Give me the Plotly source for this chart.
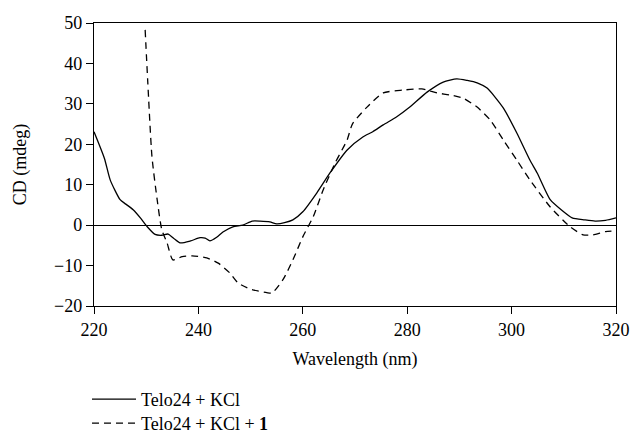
import plotly.graph_objects as go

# Telo24 + KCl (solid)
wl_kcl = [220, 222, 223.1, 225, 226.1, 227.5, 229, 230.2, 231.7, 233, 234.2, 235.3, 236.5,
          238.5, 240.3, 241.3, 242.2, 243.5, 244.7, 246.6, 248.5, 250.3, 251.8, 253.7, 255,
          256.5, 258.1, 260, 262.7, 265.2, 268.5, 271.5, 273.4, 275.4, 278, 280.5, 283.8,
          286.9, 289.5, 291.5, 293.4, 295.3, 298.4, 301, 303.5, 304.9, 307.4, 309.5, 311.6,
          314, 316, 318, 320]
cd_kcl = [23.1, 16.5, 11.2, 6.3, 5.2, 3.8, 1.6, -0.4, -2.3, -2.5, -2.2, -3.3, -4.4,
          -3.9, -3.1, -3.2, -3.9, -3.0, -1.7, -0.4, 0.0, 1.0, 1.0, 0.8, 0.3,
          0.6, 1.3, 3.3, 8.0, 12.9, 18.6, 21.8, 23.1, 24.8, 26.8, 29.2, 32.9,
          35.4, 36.2, 35.8, 35.2, 33.9, 29.0, 22.8, 16.1, 12.9, 6.3, 3.8, 1.8,
          1.3, 1.0, 1.2, 1.8]

# Telo24 + KCl + 1 (dashed)
wl_lig = [229.8, 230.3, 231.1, 232.1, 233, 234, 235.1, 236.9, 238.8, 241.6, 243.8, 246,
          247.6, 249.9, 251.5, 253.1, 254.1, 256.2, 258.1, 260, 262, 263.9, 266.2, 268.5,
          269.5, 272.3, 275.4, 279.2, 282.8, 285.7, 288.2, 290.7, 293.4, 295.9, 298.4,
          301, 303.5, 307.4, 311.2, 313.7, 315.6, 318, 320]
cd_lig = [48.3, 35.4, 17.0, 6.3, -1.2, -4.4, -8.6, -7.8, -7.6, -8.1, -9.4, -11.8,
          -14.3, -15.8, -16.3, -16.7, -16.8, -13.5, -8.6, -2.9, 2.1, 8.7, 15.4, 21.1,
          25.0, 29.2, 32.7, 33.4, 33.7, 32.7, 32.2, 31.4, 29.2, 26.0, 21.1,
          16.1, 11.2, 4.5, -0.4, -2.4, -2.4, -1.6, -1.4]

x_ticks = [220, 240, 260, 280, 300, 320]
y_ticks = [-20, -10, 0, 10, 20, 30, 40, 50]

FONT = "'Liberation Serif', 'Times New Roman', 'DejaVu Serif', serif"
FS = 18

fig = go.Figure()
fig.add_trace(go.Scatter(x=wl_kcl, y=cd_kcl, mode="lines", name="Telo24 + KCl", legend="legend",
                         line=dict(color="black", width=1.3, shape="spline", smoothing=0.6)))
fig.add_trace(go.Scatter(x=wl_lig, y=cd_lig, mode="lines", name="Telo24 + KCl + <b>1</b>", legend="legend2",
                         line=dict(color="black", width=1.3, dash="7px,5px", shape="spline", smoothing=0.6)))

leg_common = dict(x=-0.0134, xanchor="left", yanchor="top", orientation="v",
                  font=dict(family=FONT, size=FS), bgcolor="rgba(0,0,0,0)", itemwidth=44)

fig.update_layout(
    width=634, height=445,
    margin=dict(l=94, r=18, t=23, b=139, autoexpand=False),
    paper_bgcolor="white", plot_bgcolor="white",
    font=dict(family=FONT, size=FS, color="black"),
    showlegend=True,
    legend=dict(y=-0.265, **leg_common),
    legend2=dict(y=-0.3498, **leg_common),
    xaxis=dict(range=[220, 320], tickvals=x_ticks, ticks="outside", ticklen=7,
               tickcolor="black", linecolor="black", linewidth=1.3, mirror=True,
               showgrid=False, zeroline=False, ticklabeloverflow="allow",
               title=dict(text="Wavelength (nm)", font=dict(family=FONT, size=FS), standoff=13)),
    yaxis=dict(range=[-20, 50], tickvals=y_ticks, ticks="outside", ticklen=7,
               tickcolor="black", linecolor="black", linewidth=1.3, mirror=True,
               showgrid=False, zeroline=True, zerolinecolor="black", zerolinewidth=1.2,
               title=dict(text="CD (mdeg)", font=dict(family=FONT, size=FS), standoff=22)),
)

fig.write_html("out.html", config={"displayModeBar": False},
               post_script="document.body.style.margin='0';document.body.style.overflow='hidden';")
